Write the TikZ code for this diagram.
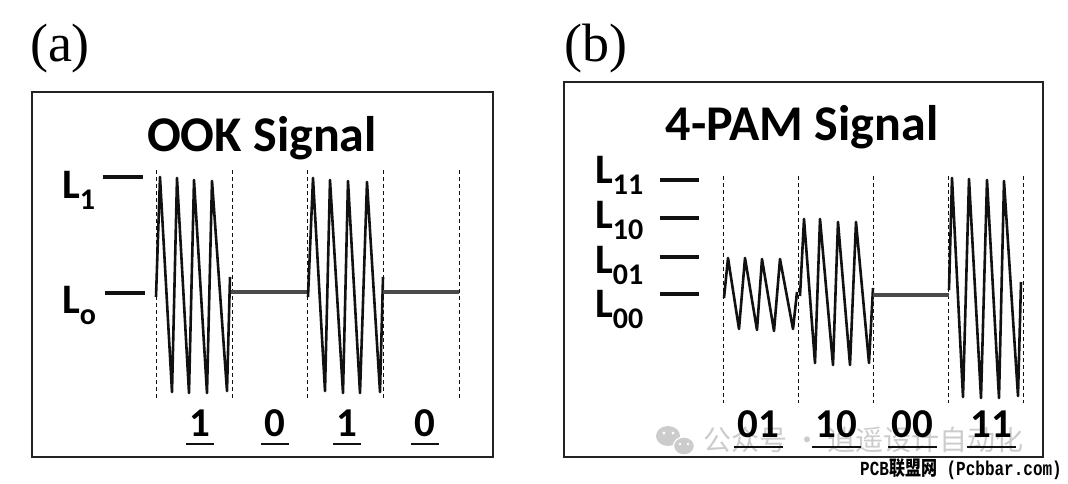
\documentclass[tikz,border=0pt]{standalone}
\usepackage{fontspec}
\setmainfont{Carlito}
\newfontfamily\panelfont{Liberation Serif}
\newfontfamily\cjkfont{Noto Sans CJK SC}
\newfontfamily\srcfont{Liberation Mono}
\usepackage{tikz}
\usetikzlibrary{calc}
\definecolor{InkBlack}{HTML}{111111}
\definecolor{FrameGray}{HTML}{222222}
\definecolor{FlatGray}{HTML}{4A4A4A}
\definecolor{MarkGray}{HTML}{CCCCCC}
\newcommand{\lvl}[1]{L\raisebox{-11pt}{\fontsize{30}{30}\selectfont #1}}

\begin{document}
\begin{tikzpicture}[
    x=1pt, y=-1pt,
    frame/.style={draw=FrameGray, line width=2pt},
    title/.style={font=\fontsize{50}{50}\selectfont\bfseries, anchor=base, inner sep=0pt},
    panel/.style={font=\panelfont\fontsize{54}{54}\selectfont, anchor=base, inner sep=0pt},
    lev/.style={font=\fontsize{42}{42}\selectfont\bfseries, anchor=base west, inner sep=0pt},
    tick/.style={InkBlack, line width=4pt},
    slot/.style={InkBlack, line width=0.9pt, dash pattern=on 4pt off 3pt},
    wave/.style={InkBlack, line width=2.6pt, line join=round},
    flat/.style={FlatGray, line width=3.5pt},
    bit/.style={font=\fontsize{41}{41}\selectfont\bfseries, anchor=base, inner sep=0pt},
    ul/.style={InkBlack, line width=2.2pt},
    wmark/.style={font=\cjkfont\fontsize{28}{28}\selectfont, text=MarkGray, anchor=west, inner sep=0pt}
  ]
    \useasboundingbox (0,0) rectangle (1068,484);

    % Panel (a): OOK
    \node[panel] (pa) at (60,62) {(a)};
    \draw[frame] (32,92) rectangle (493,457);
    \node[title] (ook) at (262,151) {OOK Signal};
    \node[lev] (l1) at (62,198) {\lvl{1}};
    \node[lev] (l0) at (62,313) {\lvl{o}};
    \draw[tick] (103,177) -- (143,177);
    \draw[tick] (105,293) -- (145,293);
    \foreach \x in {156,232,307,383,459}
      \draw[slot] (\x,170) -- (\x,400);
    \draw[wave] (156,297) -- (160,177) -- (172,392) -- (177,178) -- (189,393)
      -- (194,180) -- (207,393) -- (212,181) -- (227,391) -- (230,277);
    \draw[flat] (231,292) -- (307,292);
    \draw[wave] (308,297) -- (313,178) -- (325,391) -- (330,180) -- (343,393)
      -- (348,181) -- (360,393) -- (367,182) -- (380,392) -- (383,277);
    \draw[flat] (383,292) -- (459,292);

    % Panel (b): 4-PAM
    \node[panel] (pb) at (596,62) {(b)};
    \draw[frame] (564,82) rectangle (1043,457);
    \node[title] (pam) at (802,141) {4-PAM Signal};
    \node[lev] (l11) at (595,183) {\lvl{11}};
    \node[lev] (l10) at (595,228) {\lvl{10}};
    \node[lev] (l01) at (595,273) {\lvl{01}};
    \node[lev] (l00) at (595,317) {\lvl{00}};
    \draw[tick] (660,180) -- (699,180);
    \draw[tick] (660,218) -- (699,218);
    \draw[tick] (660,257) -- (699,257);
    \draw[tick] (660,294) -- (699,294);
    \foreach \x in {723,798,873,948,1023}
      \draw[slot] (\x,176) -- (\x,403);
    \draw[wave] (724,298) -- (728,258) -- (739,329) -- (745,258) -- (757,330)
      -- (762,259) -- (774,331) -- (780,259) -- (793,329) -- (797,292);
    \draw[wave] (800,296) -- (804,219) -- (815,363) -- (820,219) -- (833,365)
      -- (838,222) -- (850,365) -- (856,222) -- (869,363) -- (873,288);
    \draw[flat] (873,295) -- (949,295);
    \draw[wave] (949,290) -- (952,178) -- (963,397) -- (969,179) -- (981,398)
      -- (987,180) -- (999,398) -- (1004,181) -- (1018,396) -- (1021,282);

    % Watermark
    \fill[MarkGray] (668,436) ellipse (12 and 10);
    \fill[MarkGray, draw=white, line width=1.2pt] (684,446) ellipse (10.5 and 9);
    \fill[white] (664,433) circle (1.6) (673,433) circle (1.6)
      (680,444) circle (1.4) (688,444) circle (1.4);
    \node[wmark] (wm) at (703,440) {公众号 · 逍遥设计自动化};

    % Bit labels
    \node[bit] (a1) at (200,436) {1};
    \node[bit] (a2) at (275,436) {0};
    \node[bit] (a3) at (347,436) {1};
    \node[bit] (a4) at (425,436) {0};
    \node[bit] (b1) at (758,437) {01};
    \node[bit] (b2) at (836,437) {10};
    \node[bit] (b3) at (912,437) {00};
    \node[bit] (b4) at (991,437) {11};
    \foreach \n in {a1,a2,a3,a4}
      \draw[ul] ([shift={(-3pt,-8pt)}]\n.base west) -- ([shift={(3pt,-8pt)}]\n.base east);
    \foreach \n in {b1,b2,b3,b4}
      \draw[ul] ([shift={(-3pt,-10pt)}]\n.base west) -- ([shift={(4pt,-10pt)}]\n.base east);

    % Source line
    \node[anchor=base east, inner sep=0pt, xscale=0.8, transform shape,
          font=\fontsize{20}{20}\selectfont\bfseries] (src) at (1062,475)
      {{\srcfont PCB}{\cjkfont 联盟网}{\srcfont\ (Pcbbar.com)}};
  \end{tikzpicture}
\end{document}
